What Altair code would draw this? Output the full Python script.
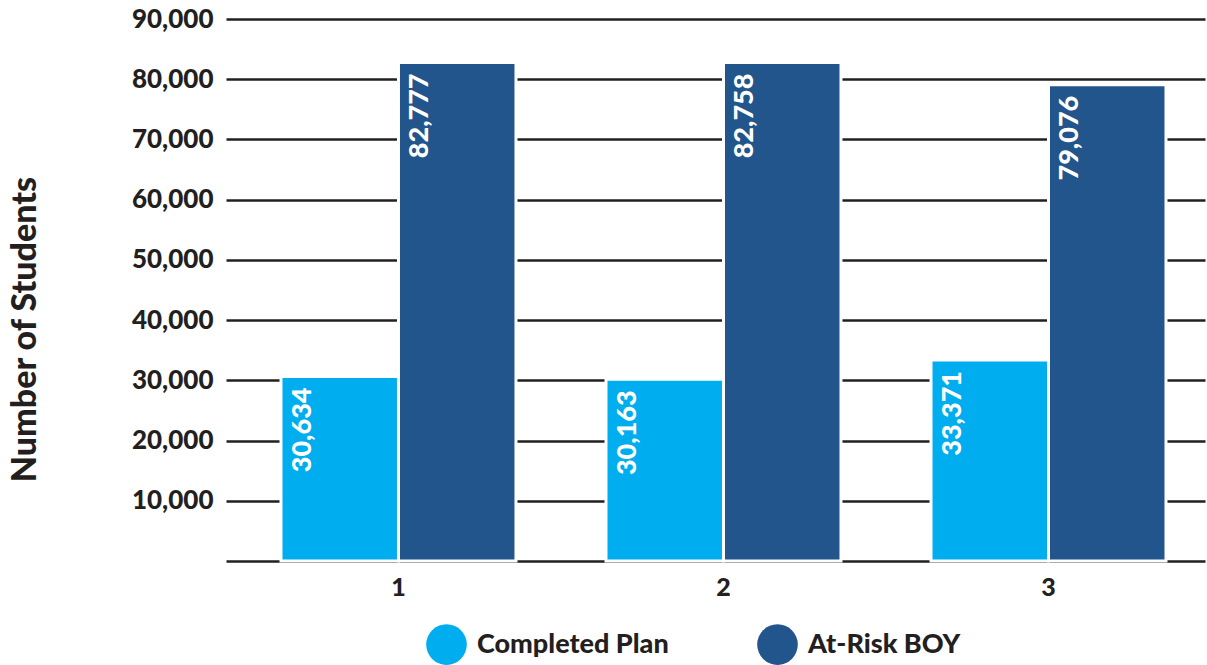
import altair as alt
import pandas as pd

# ---- data ----
groups = ["1", "2", "3"]
series = ["Completed Plan", "At-Risk BOY"]
completed = [30634, 30163, 33371]
at_risk = [82777, 82758, 79076]
y_ticks = [0, 10000, 20000, 30000, 40000, 50000, 60000, 70000, 80000, 90000]
colors = ["#00AEEF", "#21558B"]

rows = []
for g, c, a in zip(groups, completed, at_risk):
    rows.append({"group": g, "series": series[0], "value": c})
    rows.append({"group": g, "series": series[1], "value": a})
df = pd.DataFrame(rows)

FONT = "Lato"
W = 900
INK = "#231F20"

x_enc = alt.X(
    "group:N",
    sort=groups,
    scale=alt.Scale(paddingInner=0.277, paddingOuter=0.1446, align=0.585),
    axis=alt.Axis(
        title=None, labelAngle=0, labelFont=FONT, labelFontSize=25,
        labelFontWeight=W, labelColor=INK, domain=False, ticks=False,
        labelPadding=14,
    ),
)
xo_enc = alt.XOffset("series:N", sort=series,
                     scale=alt.Scale(paddingInner=0, paddingOuter=0))
y_enc = alt.Y(
    "value:Q",
    scale=alt.Scale(domain=[0, 90000], nice=False),
    axis=alt.Axis(
        values=y_ticks, format=",d",
        labelExpr="datum.value == 0 ? '' : datum.label",
        grid=True, gridColor=INK, gridWidth=2.5, gridOpacity=1,
        domain=False, ticks=False, labelPadding=13,
        labelFont=FONT, labelFontSize=26, labelFontWeight=W, labelColor=INK,
        title="Number of Students", titleFont=FONT, titleFontSize=34,
        titleFontWeight=W, titleColor=INK, titleAngle=270,
        titleX=-201, titleY=310, titleAlign="center", titleBaseline="middle",
    ),
)
color_enc = alt.Color(
    "series:N", sort=series,
    scale=alt.Scale(domain=series, range=colors),
    legend=alt.Legend(
        title=None, orient="none", legendX=200, legendY=605,
        direction="horizontal", symbolType="circle", symbolSize=1650,
        symbolStrokeWidth=0, symbolOpacity=1, labelFont=FONT, labelFontSize=27,
        labelFontWeight=W, labelColor=INK, labelOffset=10, labelLimit=0,
        columnPadding=88, padding=0,
    ),
)

base = alt.Chart(df)

bars = base.mark_bar(stroke="white", strokeWidth=3).encode(
    x=x_enc, xOffset=xo_enc, y=y_enc, color=color_enc
)

labels = base.mark_text(
    angle=270, align="right", baseline="middle", dx=-11, dy=-37,
    font=FONT, fontSize=27, fontWeight=W, color="white",
).encode(
    x=x_enc, xOffset=xo_enc, y=y_enc,
    text=alt.Text("value:Q", format=","),
)

chart = (
    alt.layer(bars, labels)
    .properties(
        width=979, height=542,
        autosize=alt.AutoSizeParams(type="none"),
        padding={"left": 226, "top": 19, "right": 2, "bottom": 104},
        background="white",
    )
    .configure_view(stroke=None)
)

chart.save("out.html", embed_options={"renderer": "svg", "actions": False})
